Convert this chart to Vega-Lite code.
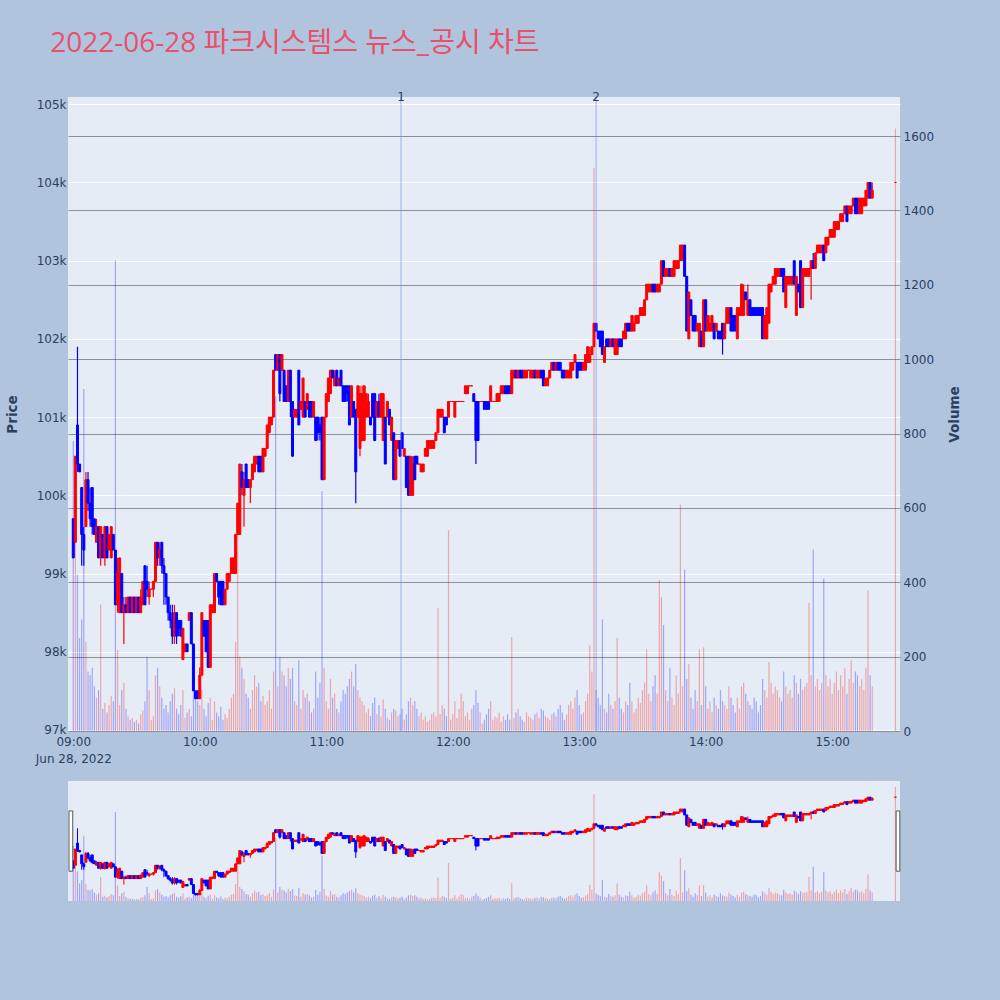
{
"$schema": "https://vega.github.io/schema/vega-lite/v6.json",
"background": "#B0C4DE",
"padding": {"left": 5, "top": 30, "right": 38, "bottom": 114},
"title": {"text": "2022-06-28 파크시스템스 뉴스_공시 차트", "anchor": "start", "frame": "bounds", "dx": 45, "offset": 33, "fontSize": 28, "font": "Open Sans, Noto Sans CJK KR", "fontWeight": "normal", "color": "#E9506A"},
"data": {"format": {"parse": {"t": "date:'%H:%M'"}}, "values": [
{"t":"09:00","o":99700,"h":99700,"l":99200,"c":99200,"v":780},
{"t":"09:01","o":99400,"h":100500,"l":99400,"c":100500,"v":740},
{"t":"09:02","o":100900,"h":101900,"l":100300,"c":100400,"v":420},
{"t":"09:03","o":100400,"h":100400,"l":100300,"c":100300,"v":250},
{"t":"09:04","o":100100,"h":100100,"l":99100,"c":99500,"v":300},
{"t":"09:05","o":99500,"h":99600,"l":99100,"c":99300,"v":920},
{"t":"09:06","o":99600,"h":100300,"l":99600,"c":100200,"v":240},
{"t":"09:07","o":100200,"h":100300,"l":99800,"c":99900,"v":160},
{"t":"09:08","o":99900,"h":100100,"l":99600,"c":99700,"v":150},
{"t":"09:09","o":100100,"h":100100,"l":99500,"c":99600,"v":170},
{"t":"09:10","o":99700,"h":99700,"l":99500,"c":99500,"v":120},
{"t":"09:11","o":99400,"h":99700,"l":99400,"c":99600,"v":90},
{"t":"09:12","o":99600,"h":99600,"l":99200,"c":99200,"v":110},
{"t":"09:13","o":99200,"h":99600,"l":99100,"c":99600,"v":340},
{"t":"09:14","o":99500,"h":99500,"l":99200,"c":99200,"v":60},
{"t":"09:15","o":99200,"h":99600,"l":99100,"c":99600,"v":75},
{"t":"09:16","o":99600,"h":99600,"l":99200,"c":99200,"v":50},
{"t":"09:17","o":99300,"h":99500,"l":99300,"c":99500,"v":70},
{"t":"09:18","o":99200,"h":99600,"l":99200,"c":99600,"v":95},
{"t":"09:19","o":99500,"h":99500,"l":99300,"c":99300,"v":80},
{"t":"09:20","o":99300,"h":99300,"l":98600,"c":98600,"v":1265},
{"t":"09:21","o":98600,"h":99200,"l":98500,"c":99000,"v":218},
{"t":"09:22","o":98500,"h":99200,"l":98500,"c":99200,"v":70},
{"t":"09:23","o":99000,"h":99000,"l":98500,"c":98500,"v":110},
{"t":"09:24","o":98500,"h":98700,"l":98100,"c":98600,"v":130},
{"t":"09:25","o":98600,"h":98700,"l":98500,"c":98500,"v":60},
{"t":"09:26","o":98500,"h":98700,"l":98500,"c":98700,"v":40},
{"t":"09:27","o":98700,"h":98700,"l":98500,"c":98500,"v":30},
{"t":"09:28","o":98500,"h":98700,"l":98500,"c":98700,"v":35},
{"t":"09:29","o":98700,"h":98700,"l":98500,"c":98500,"v":25},
{"t":"09:30","o":98500,"h":98700,"l":98500,"c":98700,"v":30},
{"t":"09:31","o":98700,"h":98700,"l":98500,"c":98500,"v":20},
{"t":"09:32","o":98500,"h":98800,"l":98500,"c":98700,"v":45},
{"t":"09:33","o":98600,"h":98900,"l":98600,"c":98900,"v":55},
{"t":"09:34","o":99100,"h":99100,"l":98600,"c":98600,"v":80},
{"t":"09:35","o":98900,"h":99100,"l":98700,"c":98800,"v":200},
{"t":"09:36","o":98700,"h":98900,"l":98600,"c":98800,"v":110},
{"t":"09:37","o":98800,"h":98800,"l":98800,"c":98800,"v":30},
{"t":"09:38","o":98800,"h":98900,"l":98700,"c":98900,"v":40},
{"t":"09:39","o":98900,"h":99400,"l":98900,"c":99400,"v":150},
{"t":"09:40","o":99400,"h":99400,"l":99100,"c":99200,"v":170},
{"t":"09:41","o":99200,"h":99400,"l":99100,"c":99300,"v":120},
{"t":"09:42","o":99400,"h":99400,"l":99000,"c":99100,"v":90},
{"t":"09:43","o":99100,"h":99200,"l":98600,"c":99000,"v":60},
{"t":"09:44","o":99000,"h":99000,"l":98600,"c":98700,"v":70},
{"t":"09:45","o":98700,"h":98700,"l":98400,"c":98500,"v":50},
{"t":"09:46","o":98500,"h":98600,"l":98300,"c":98400,"v":80},
{"t":"09:47","o":98400,"h":98600,"l":98100,"c":98200,"v":100},
{"t":"09:48","o":98200,"h":98600,"l":98100,"c":98500,"v":115},
{"t":"09:49","o":98500,"h":98500,"l":98100,"c":98200,"v":60},
{"t":"09:50","o":98400,"h":98400,"l":98200,"c":98300,"v":45},
{"t":"09:51","o":98400,"h":98400,"l":98200,"c":98200,"v":70},
{"t":"09:52","o":97900,"h":98300,"l":97900,"c":98300,"v":110},
{"t":"09:53","o":98000,"h":98100,"l":98000,"c":98100,"v":35},
{"t":"09:54","o":98100,"h":98100,"l":98000,"c":98000,"v":50},
{"t":"09:55","o":98400,"h":98500,"l":98400,"c":98500,"v":60},
{"t":"09:56","o":98500,"h":98500,"l":98100,"c":98100,"v":40},
{"t":"09:57","o":98100,"h":98100,"l":97500,"c":97500,"v":105},
{"t":"09:58","o":97500,"h":97500,"l":97400,"c":97400,"v":95},
{"t":"09:59","o":97500,"h":97500,"l":97400,"c":97400,"v":80},
{"t":"10:00","o":97400,"h":97800,"l":97400,"c":97700,"v":70},
{"t":"10:01","o":97700,"h":98500,"l":97700,"c":98500,"v":110},
{"t":"10:02","o":98400,"h":98400,"l":98200,"c":98200,"v":60},
{"t":"10:03","o":98400,"h":98400,"l":98000,"c":98000,"v":40},
{"t":"10:04","o":98400,"h":98400,"l":97800,"c":97800,"v":75},
{"t":"10:05","o":97800,"h":98600,"l":97800,"c":98600,"v":90},
{"t":"10:06","o":98500,"h":98600,"l":98500,"c":98600,"v":30},
{"t":"10:07","o":98500,"h":99000,"l":98500,"c":99000,"v":80},
{"t":"10:08","o":99000,"h":99000,"l":98900,"c":98900,"v":50},
{"t":"10:09","o":98900,"h":98900,"l":98600,"c":98700,"v":40},
{"t":"10:10","o":98900,"h":98900,"l":98600,"c":98600,"v":65},
{"t":"10:11","o":98900,"h":98900,"l":98600,"c":98600,"v":30},
{"t":"10:12","o":98600,"h":98800,"l":98600,"c":98800,"v":45},
{"t":"10:13","o":98800,"h":99000,"l":98800,"c":99000,"v":35},
{"t":"10:14","o":98900,"h":99000,"l":98900,"c":99000,"v":60},
{"t":"10:15","o":99000,"h":99200,"l":99000,"c":99200,"v":90},
{"t":"10:16","o":99000,"h":99200,"l":99000,"c":99200,"v":100},
{"t":"10:17","o":99000,"h":99500,"l":99000,"c":99500,"v":240},
{"t":"10:18","o":99500,"h":99900,"l":99500,"c":99900,"v":540},
{"t":"10:19","o":99500,"h":100400,"l":99500,"c":100400,"v":200},
{"t":"10:20","o":100300,"h":100400,"l":100000,"c":100100,"v":170},
{"t":"10:21","o":100000,"h":100300,"l":99600,"c":100200,"v":140},
{"t":"10:22","o":100400,"h":100400,"l":100100,"c":100100,"v":100},
{"t":"10:23","o":100200,"h":100200,"l":100100,"c":100100,"v":90},
{"t":"10:24","o":100100,"h":100200,"l":99900,"c":100200,"v":60},
{"t":"10:25","o":100200,"h":100400,"l":100200,"c":100400,"v":110},
{"t":"10:26","o":100300,"h":100500,"l":100300,"c":100500,"v":150},
{"t":"10:27","o":100400,"h":100500,"l":100400,"c":100500,"v":120},
{"t":"10:28","o":100500,"h":100500,"l":100300,"c":100300,"v":130},
{"t":"10:29","o":100500,"h":100500,"l":100300,"c":100300,"v":80},
{"t":"10:30","o":100300,"h":100600,"l":100300,"c":100600,"v":95},
{"t":"10:31","o":100500,"h":100600,"l":100500,"c":100600,"v":70},
{"t":"10:32","o":100600,"h":100900,"l":100600,"c":100900,"v":80},
{"t":"10:33","o":100800,"h":101000,"l":100800,"c":101000,"v":110},
{"t":"10:34","o":100900,"h":101000,"l":100900,"c":101000,"v":60},
{"t":"10:35","o":101000,"h":101600,"l":101000,"c":101600,"v":160},
{"t":"10:36","o":101800,"h":101800,"l":101600,"c":101600,"v":900},
{"t":"10:37","o":101600,"h":101800,"l":101600,"c":101800,"v":120},
{"t":"10:38","o":101800,"h":101800,"l":101200,"c":101300,"v":200},
{"t":"10:39","o":101600,"h":101800,"l":101600,"c":101800,"v":160},
{"t":"10:40","o":101600,"h":101600,"l":101200,"c":101200,"v":150},
{"t":"10:41","o":101400,"h":101400,"l":101200,"c":101200,"v":120},
{"t":"10:42","o":101200,"h":101600,"l":101200,"c":101600,"v":170},
{"t":"10:43","o":101600,"h":101600,"l":101000,"c":101200,"v":140},
{"t":"10:44","o":101200,"h":101200,"l":100500,"c":100500,"v":170},
{"t":"10:45","o":101000,"h":101100,"l":101000,"c":101100,"v":80},
{"t":"10:46","o":101000,"h":101100,"l":101000,"c":101100,"v":70},
{"t":"10:47","o":101600,"h":101600,"l":100900,"c":100900,"v":190},
{"t":"10:48","o":101100,"h":101200,"l":101100,"c":101200,"v":60},
{"t":"10:49","o":101000,"h":101500,"l":101000,"c":101500,"v":110},
{"t":"10:50","o":101200,"h":101200,"l":101000,"c":101000,"v":90},
{"t":"10:51","o":101100,"h":101300,"l":101100,"c":101300,"v":100},
{"t":"10:52","o":101200,"h":101200,"l":101000,"c":101000,"v":80},
{"t":"10:53","o":101200,"h":101200,"l":101000,"c":101000,"v":50},
{"t":"10:54","o":101000,"h":101200,"l":101000,"c":101200,"v":60},
{"t":"10:55","o":101000,"h":101000,"l":100700,"c":100700,"v":160},
{"t":"10:56","o":101000,"h":101000,"l":100700,"c":100800,"v":90},
{"t":"10:57","o":100900,"h":101000,"l":100700,"c":100800,"v":130},
{"t":"10:58","o":101000,"h":101000,"l":100200,"c":100200,"v":645},
{"t":"10:59","o":100200,"h":101000,"l":100200,"c":101000,"v":170},
{"t":"11:00","o":101000,"h":101300,"l":101000,"c":101300,"v":80},
{"t":"11:01","o":101200,"h":101500,"l":101200,"c":101500,"v":60},
{"t":"11:02","o":101300,"h":101600,"l":101300,"c":101600,"v":140},
{"t":"11:03","o":101600,"h":101600,"l":101500,"c":101500,"v":90},
{"t":"11:04","o":101400,"h":101600,"l":101400,"c":101500,"v":100},
{"t":"11:05","o":101600,"h":101600,"l":101400,"c":101400,"v":60},
{"t":"11:06","o":101400,"h":101500,"l":101400,"c":101500,"v":50},
{"t":"11:07","o":101600,"h":101600,"l":101400,"c":101400,"v":80},
{"t":"11:08","o":101400,"h":101400,"l":101200,"c":101200,"v":110},
{"t":"11:09","o":101400,"h":101400,"l":101200,"c":101200,"v":100},
{"t":"11:10","o":101400,"h":101400,"l":101200,"c":101300,"v":120},
{"t":"11:11","o":101400,"h":101400,"l":100900,"c":100900,"v":140},
{"t":"11:12","o":101000,"h":101400,"l":101000,"c":101400,"v":160},
{"t":"11:13","o":101200,"h":101200,"l":101000,"c":101000,"v":120},
{"t":"11:14","o":101100,"h":101100,"l":99900,"c":100300,"v":180},
{"t":"11:15","o":101000,"h":101400,"l":101000,"c":101400,"v":110},
{"t":"11:16","o":100600,"h":101400,"l":100500,"c":101300,"v":90},
{"t":"11:17","o":100700,"h":101400,"l":100700,"c":101300,"v":80},
{"t":"11:18","o":100700,"h":101400,"l":100700,"c":101400,"v":70},
{"t":"11:19","o":101000,"h":101300,"l":101000,"c":101300,"v":50},
{"t":"11:20","o":101000,"h":101300,"l":101000,"c":101200,"v":60},
{"t":"11:21","o":101000,"h":101000,"l":100900,"c":100900,"v":40},
{"t":"11:22","o":101300,"h":101300,"l":101000,"c":101000,"v":75},
{"t":"11:23","o":101300,"h":101300,"l":100700,"c":100700,"v":90},
{"t":"11:24","o":101000,"h":101200,"l":101000,"c":101200,"v":45},
{"t":"11:25","o":101200,"h":101300,"l":101000,"c":101000,"v":70},
{"t":"11:26","o":101000,"h":101300,"l":101000,"c":101300,"v":40},
{"t":"11:27","o":100700,"h":101300,"l":100700,"c":101300,"v":85},
{"t":"11:28","o":101000,"h":101000,"l":100400,"c":100400,"v":60},
{"t":"11:29","o":101000,"h":101200,"l":101000,"c":101200,"v":35},
{"t":"11:30","o":101100,"h":101100,"l":100900,"c":100900,"v":30},
{"t":"11:31","o":100700,"h":101000,"l":100700,"c":101000,"v":50},
{"t":"11:32","o":100800,"h":100800,"l":100200,"c":100200,"v":60},
{"t":"11:33","o":100200,"h":100700,"l":100200,"c":100700,"v":55},
{"t":"11:34","o":100600,"h":100700,"l":100600,"c":100700,"v":40},
{"t":"11:35","o":100700,"h":100700,"l":100500,"c":100500,"v":45},
{"t":"11:36","o":100800,"h":100800,"l":100600,"c":100600,"v":60},
{"t":"11:37","o":100500,"h":100600,"l":100500,"c":100600,"v":30},
{"t":"11:38","o":100500,"h":100500,"l":100100,"c":100100,"v":45},
{"t":"11:39","o":100500,"h":100500,"l":100000,"c":100000,"v":80},
{"t":"11:40","o":100000,"h":100500,"l":100000,"c":100500,"v":90},
{"t":"11:41","o":100000,"h":100500,"l":100000,"c":100400,"v":70},
{"t":"11:42","o":100500,"h":100500,"l":100200,"c":100200,"v":80},
{"t":"11:43","o":100500,"h":100500,"l":100400,"c":100400,"v":60},
{"t":"11:44","o":100400,"h":100400,"l":100400,"c":100400,"v":40},
{"t":"11:45","o":100300,"h":100400,"l":100300,"c":100400,"v":50},
{"t":"11:46","o":100300,"h":100400,"l":100300,"c":100400,"v":30},
{"t":"11:47","o":100500,"h":100600,"l":100500,"c":100600,"v":40},
{"t":"11:48","o":100500,"h":100700,"l":100500,"c":100700,"v":25},
{"t":"11:49","o":100600,"h":100700,"l":100600,"c":100700,"v":30},
{"t":"11:50","o":100600,"h":100700,"l":100600,"c":100700,"v":45},
{"t":"11:51","o":100600,"h":100700,"l":100600,"c":100700,"v":50},
{"t":"11:52","o":100700,"h":100800,"l":100700,"c":100800,"v":40},
{"t":"11:53","o":100800,"h":101100,"l":100800,"c":101100,"v":330},
{"t":"11:54","o":101000,"h":101100,"l":101000,"c":101100,"v":45},
{"t":"11:55","o":101000,"h":101100,"l":101000,"c":101100,"v":70},
{"t":"11:56","o":101000,"h":101000,"l":100800,"c":100800,"v":60},
{"t":"11:57","o":101000,"h":101000,"l":100900,"c":100900,"v":40},
{"t":"11:58","o":101000,"h":101200,"l":101000,"c":101200,"v":540},
{"t":"11:59","o":101200,"h":101200,"l":101200,"c":101200,"v":30},
{"t":"12:00","o":101200,"h":101200,"l":101200,"c":101200,"v":45},
{"t":"12:01","o":101000,"h":101200,"l":101000,"c":101200,"v":80},
{"t":"12:02","o":101200,"h":101200,"l":101200,"c":101200,"v":35},
{"t":"12:03","o":101200,"h":101200,"l":101200,"c":101200,"v":60},
{"t":"12:04","o":101200,"h":101200,"l":101200,"c":101200,"v":100},
{"t":"12:05","o":101200,"h":101200,"l":101200,"c":101200,"v":80},
{"t":"12:06","o":101300,"h":101400,"l":101300,"c":101400,"v":40},
{"t":"12:07","o":101300,"h":101400,"l":101300,"c":101400,"v":50},
{"t":"12:08","o":101400,"h":101400,"l":101400,"c":101400,"v":30},
{"t":"12:09","o":101400,"h":101400,"l":101400,"c":101400,"v":60},
{"t":"12:10","o":101300,"h":101300,"l":101200,"c":101200,"v":70},
{"t":"12:11","o":101200,"h":101200,"l":100400,"c":100700,"v":110},
{"t":"12:12","o":101200,"h":101200,"l":100700,"c":100700,"v":75},
{"t":"12:13","o":101200,"h":101200,"l":101200,"c":101200,"v":50},
{"t":"12:14","o":101200,"h":101200,"l":101200,"c":101200,"v":20},
{"t":"12:15","o":101200,"h":101200,"l":101100,"c":101100,"v":30},
{"t":"12:16","o":101200,"h":101200,"l":101100,"c":101100,"v":45},
{"t":"12:17","o":101200,"h":101200,"l":101100,"c":101100,"v":60},
{"t":"12:18","o":101200,"h":101400,"l":101200,"c":101400,"v":80},
{"t":"12:19","o":101200,"h":101200,"l":101200,"c":101200,"v":30},
{"t":"12:20","o":101200,"h":101200,"l":101200,"c":101200,"v":40},
{"t":"12:21","o":101200,"h":101300,"l":101200,"c":101300,"v":35},
{"t":"12:22","o":101200,"h":101300,"l":101200,"c":101300,"v":50},
{"t":"12:23","o":101300,"h":101400,"l":101300,"c":101400,"v":25},
{"t":"12:24","o":101300,"h":101400,"l":101300,"c":101400,"v":40},
{"t":"12:25","o":101400,"h":101400,"l":101300,"c":101300,"v":30},
{"t":"12:26","o":101400,"h":101400,"l":101300,"c":101300,"v":45},
{"t":"12:27","o":101400,"h":101400,"l":101300,"c":101300,"v":30},
{"t":"12:28","o":101300,"h":101600,"l":101300,"c":101600,"v":253},
{"t":"12:29","o":101500,"h":101600,"l":101500,"c":101600,"v":35},
{"t":"12:30","o":101600,"h":101600,"l":101500,"c":101500,"v":50},
{"t":"12:31","o":101500,"h":101600,"l":101500,"c":101600,"v":60},
{"t":"12:32","o":101600,"h":101600,"l":101500,"c":101500,"v":40},
{"t":"12:33","o":101600,"h":101600,"l":101500,"c":101500,"v":30},
{"t":"12:34","o":101500,"h":101600,"l":101500,"c":101600,"v":25},
{"t":"12:35","o":101500,"h":101600,"l":101500,"c":101600,"v":50},
{"t":"12:36","o":101600,"h":101600,"l":101600,"c":101600,"v":40},
{"t":"12:37","o":101500,"h":101600,"l":101500,"c":101600,"v":35},
{"t":"12:38","o":101500,"h":101600,"l":101500,"c":101600,"v":30},
{"t":"12:39","o":101600,"h":101600,"l":101500,"c":101500,"v":45},
{"t":"12:40","o":101500,"h":101600,"l":101500,"c":101600,"v":50},
{"t":"12:41","o":101500,"h":101600,"l":101500,"c":101600,"v":35},
{"t":"12:42","o":101600,"h":101600,"l":101500,"c":101500,"v":60},
{"t":"12:43","o":101600,"h":101600,"l":101400,"c":101400,"v":55},
{"t":"12:44","o":101400,"h":101500,"l":101400,"c":101500,"v":40},
{"t":"12:45","o":101400,"h":101500,"l":101400,"c":101500,"v":35},
{"t":"12:46","o":101500,"h":101600,"l":101500,"c":101600,"v":30},
{"t":"12:47","o":101600,"h":101700,"l":101600,"c":101700,"v":45},
{"t":"12:48","o":101700,"h":101700,"l":101600,"c":101600,"v":50},
{"t":"12:49","o":101600,"h":101700,"l":101600,"c":101700,"v":40},
{"t":"12:50","o":101700,"h":101700,"l":101600,"c":101600,"v":60},
{"t":"12:51","o":101700,"h":101700,"l":101600,"c":101600,"v":70},
{"t":"12:52","o":101600,"h":101600,"l":101500,"c":101500,"v":50},
{"t":"12:53","o":101600,"h":101600,"l":101500,"c":101500,"v":30},
{"t":"12:54","o":101500,"h":101600,"l":101500,"c":101600,"v":45},
{"t":"12:55","o":101500,"h":101600,"l":101500,"c":101600,"v":70},
{"t":"12:56","o":101500,"h":101700,"l":101500,"c":101700,"v":80},
{"t":"12:57","o":101600,"h":101700,"l":101600,"c":101700,"v":60},
{"t":"12:58","o":101700,"h":101800,"l":101700,"c":101800,"v":90},
{"t":"12:59","o":101700,"h":101700,"l":101500,"c":101500,"v":110},
{"t":"13:00","o":101700,"h":101700,"l":101600,"c":101600,"v":70},
{"t":"13:01","o":101700,"h":101700,"l":101600,"c":101600,"v":45},
{"t":"13:02","o":101600,"h":101700,"l":101600,"c":101700,"v":50},
{"t":"13:03","o":101600,"h":101800,"l":101600,"c":101800,"v":80},
{"t":"13:04","o":101700,"h":101900,"l":101700,"c":101900,"v":100},
{"t":"13:05","o":101700,"h":101900,"l":101700,"c":101800,"v":230},
{"t":"13:06","o":101800,"h":101900,"l":101800,"c":101900,"v":160},
{"t":"13:07","o":101900,"h":102200,"l":101900,"c":102200,"v":1515},
{"t":"13:08","o":102200,"h":102200,"l":102100,"c":102100,"v":110},
{"t":"13:09","o":102100,"h":102100,"l":102000,"c":102000,"v":90},
{"t":"13:10","o":102100,"h":102100,"l":101900,"c":101900,"v":70},
{"t":"13:11","o":102100,"h":102100,"l":101800,"c":101800,"v":300},
{"t":"13:12","o":101700,"h":101900,"l":101700,"c":101900,"v":60},
{"t":"13:13","o":102000,"h":102000,"l":101900,"c":101900,"v":50},
{"t":"13:14","o":102000,"h":102000,"l":101900,"c":101900,"v":100},
{"t":"13:15","o":101900,"h":102000,"l":101900,"c":102000,"v":70},
{"t":"13:16","o":102000,"h":102000,"l":101900,"c":101900,"v":60},
{"t":"13:17","o":101800,"h":102000,"l":101800,"c":102000,"v":80},
{"t":"13:18","o":101800,"h":102000,"l":101800,"c":102000,"v":250},
{"t":"13:19","o":102000,"h":102000,"l":101900,"c":101900,"v":90},
{"t":"13:20","o":102000,"h":102000,"l":101900,"c":101900,"v":60},
{"t":"13:21","o":102000,"h":102100,"l":102000,"c":102100,"v":50},
{"t":"13:22","o":102000,"h":102200,"l":102000,"c":102200,"v":80},
{"t":"13:23","o":102200,"h":102200,"l":102100,"c":102100,"v":70},
{"t":"13:24","o":102200,"h":102200,"l":102100,"c":102100,"v":130},
{"t":"13:25","o":102100,"h":102300,"l":102100,"c":102300,"v":80},
{"t":"13:26","o":102100,"h":102300,"l":102100,"c":102200,"v":50},
{"t":"13:27","o":102200,"h":102300,"l":102200,"c":102300,"v":60},
{"t":"13:28","o":102200,"h":102300,"l":102200,"c":102300,"v":90},
{"t":"13:29","o":102300,"h":102400,"l":102300,"c":102400,"v":75},
{"t":"13:30","o":102300,"h":102400,"l":102300,"c":102400,"v":110},
{"t":"13:31","o":102300,"h":102500,"l":102300,"c":102500,"v":130},
{"t":"13:32","o":102500,"h":102700,"l":102500,"c":102700,"v":220},
{"t":"13:33","o":102600,"h":102700,"l":102600,"c":102700,"v":100},
{"t":"13:34","o":102600,"h":102700,"l":102600,"c":102700,"v":80},
{"t":"13:35","o":102700,"h":102700,"l":102600,"c":102600,"v":120},
{"t":"13:36","o":102700,"h":102700,"l":102600,"c":102600,"v":150},
{"t":"13:37","o":102600,"h":102700,"l":102600,"c":102700,"v":100},
{"t":"13:38","o":102600,"h":102700,"l":102600,"c":102700,"v":407},
{"t":"13:39","o":102700,"h":103000,"l":102700,"c":103000,"v":360},
{"t":"13:40","o":103000,"h":103000,"l":102800,"c":102800,"v":285},
{"t":"13:41","o":102800,"h":102900,"l":102800,"c":102900,"v":110},
{"t":"13:42","o":102800,"h":102900,"l":102800,"c":102900,"v":80},
{"t":"13:43","o":102900,"h":102900,"l":102800,"c":102800,"v":170},
{"t":"13:44","o":102800,"h":102900,"l":102800,"c":102900,"v":90},
{"t":"13:45","o":102800,"h":103000,"l":102800,"c":103000,"v":70},
{"t":"13:46","o":102900,"h":103000,"l":102900,"c":103000,"v":150},
{"t":"13:47","o":102900,"h":103000,"l":102900,"c":103000,"v":100},
{"t":"13:48","o":103000,"h":103200,"l":103000,"c":103200,"v":609},
{"t":"13:49","o":103000,"h":103200,"l":103000,"c":103200,"v":120},
{"t":"13:50","o":103200,"h":103200,"l":102800,"c":102800,"v":434},
{"t":"13:51","o":102800,"h":102800,"l":102100,"c":102100,"v":140},
{"t":"13:52","o":102000,"h":102600,"l":102000,"c":102600,"v":180},
{"t":"13:53","o":102500,"h":102500,"l":102300,"c":102300,"v":90},
{"t":"13:54","o":102300,"h":102300,"l":102100,"c":102100,"v":60},
{"t":"13:55","o":102300,"h":102300,"l":102100,"c":102100,"v":110},
{"t":"13:56","o":102100,"h":102200,"l":102100,"c":102200,"v":80},
{"t":"13:57","o":101900,"h":102200,"l":101900,"c":102200,"v":220},
{"t":"13:58","o":102100,"h":102100,"l":101900,"c":101900,"v":70},
{"t":"13:59","o":101900,"h":102500,"l":101900,"c":102500,"v":225},
{"t":"14:00","o":102500,"h":102500,"l":102100,"c":102100,"v":120},
{"t":"14:01","o":102100,"h":102300,"l":102100,"c":102300,"v":60},
{"t":"14:02","o":102100,"h":102300,"l":102100,"c":102200,"v":80},
{"t":"14:03","o":102100,"h":102300,"l":102100,"c":102300,"v":50},
{"t":"14:04","o":102200,"h":102200,"l":102000,"c":102000,"v":90},
{"t":"14:05","o":102100,"h":102200,"l":102100,"c":102200,"v":70},
{"t":"14:06","o":102100,"h":102100,"l":102000,"c":102000,"v":60},
{"t":"14:07","o":102100,"h":102100,"l":102000,"c":102000,"v":110},
{"t":"14:08","o":102200,"h":102200,"l":101800,"c":102000,"v":80},
{"t":"14:09","o":102000,"h":102200,"l":102000,"c":102200,"v":70},
{"t":"14:10","o":102200,"h":102400,"l":102200,"c":102400,"v":60},
{"t":"14:11","o":102200,"h":102400,"l":102200,"c":102400,"v":120},
{"t":"14:12","o":102400,"h":102400,"l":102100,"c":102100,"v":90},
{"t":"14:13","o":102300,"h":102300,"l":102100,"c":102100,"v":70},
{"t":"14:14","o":102300,"h":102300,"l":102100,"c":102100,"v":50},
{"t":"14:15","o":102000,"h":102400,"l":102000,"c":102400,"v":90},
{"t":"14:16","o":102300,"h":102400,"l":102300,"c":102400,"v":60},
{"t":"14:17","o":102300,"h":102700,"l":102300,"c":102700,"v":120},
{"t":"14:18","o":102300,"h":102700,"l":102300,"c":102600,"v":130},
{"t":"14:19","o":102600,"h":102600,"l":102500,"c":102500,"v":100},
{"t":"14:20","o":102300,"h":102700,"l":102300,"c":102500,"v":80},
{"t":"14:21","o":102500,"h":102500,"l":102300,"c":102300,"v":70},
{"t":"14:22","o":102400,"h":102400,"l":102300,"c":102300,"v":60},
{"t":"14:23","o":102400,"h":102400,"l":102300,"c":102300,"v":90},
{"t":"14:24","o":102400,"h":102400,"l":102300,"c":102300,"v":80},
{"t":"14:25","o":102400,"h":102400,"l":102300,"c":102300,"v":50},
{"t":"14:26","o":102400,"h":102400,"l":102300,"c":102300,"v":70},
{"t":"14:27","o":102400,"h":102400,"l":102000,"c":102000,"v":140},
{"t":"14:28","o":102000,"h":102300,"l":102000,"c":102300,"v":110},
{"t":"14:29","o":102000,"h":102400,"l":102000,"c":102400,"v":90},
{"t":"14:30","o":102200,"h":102700,"l":102200,"c":102700,"v":185},
{"t":"14:31","o":102600,"h":102700,"l":102600,"c":102700,"v":130},
{"t":"14:32","o":102700,"h":102800,"l":102700,"c":102800,"v":100},
{"t":"14:33","o":102700,"h":102900,"l":102700,"c":102900,"v":120},
{"t":"14:34","o":102800,"h":102900,"l":102800,"c":102900,"v":110},
{"t":"14:35","o":102800,"h":102900,"l":102800,"c":102900,"v":90},
{"t":"14:36","o":102900,"h":102900,"l":102800,"c":102800,"v":80},
{"t":"14:37","o":102900,"h":102900,"l":102600,"c":102600,"v":160},
{"t":"14:38","o":102400,"h":102800,"l":102400,"c":102800,"v":120},
{"t":"14:39","o":102700,"h":102800,"l":102700,"c":102800,"v":100},
{"t":"14:40","o":102700,"h":102800,"l":102700,"c":102800,"v":110},
{"t":"14:41","o":102700,"h":102800,"l":102700,"c":102800,"v":90},
{"t":"14:42","o":103000,"h":103000,"l":102700,"c":102700,"v":150},
{"t":"14:43","o":102300,"h":102800,"l":102300,"c":102800,"v":130},
{"t":"14:44","o":102700,"h":102700,"l":102600,"c":102600,"v":100},
{"t":"14:45","o":103000,"h":103000,"l":102400,"c":102400,"v":140},
{"t":"14:46","o":102400,"h":102900,"l":102400,"c":102900,"v":110},
{"t":"14:47","o":102800,"h":102900,"l":102800,"c":102900,"v":120},
{"t":"14:48","o":102800,"h":102900,"l":102800,"c":102900,"v":130},
{"t":"14:49","o":102800,"h":102900,"l":102800,"c":102900,"v":345},
{"t":"14:50","o":102900,"h":103000,"l":102500,"c":103000,"v":150},
{"t":"14:51","o":103000,"h":103100,"l":102900,"c":102900,"v":488},
{"t":"14:52","o":102900,"h":103100,"l":102900,"c":103100,"v":120},
{"t":"14:53","o":103100,"h":103200,"l":103100,"c":103200,"v":140},
{"t":"14:54","o":103100,"h":103200,"l":103100,"c":103200,"v":110},
{"t":"14:55","o":103100,"h":103200,"l":103100,"c":103200,"v":130},
{"t":"14:56","o":103200,"h":103200,"l":103000,"c":103000,"v":410},
{"t":"14:57","o":103100,"h":103300,"l":103100,"c":103300,"v":150},
{"t":"14:58","o":103200,"h":103300,"l":103200,"c":103300,"v":120},
{"t":"14:59","o":103300,"h":103400,"l":103300,"c":103400,"v":140},
{"t":"15:00","o":103300,"h":103400,"l":103300,"c":103400,"v":100},
{"t":"15:01","o":103300,"h":103500,"l":103300,"c":103500,"v":130},
{"t":"15:02","o":103400,"h":103500,"l":103400,"c":103500,"v":160},
{"t":"15:03","o":103400,"h":103500,"l":103400,"c":103500,"v":110},
{"t":"15:04","o":103500,"h":103600,"l":103500,"c":103600,"v":150},
{"t":"15:05","o":103500,"h":103600,"l":103500,"c":103600,"v":120},
{"t":"15:06","o":103600,"h":103700,"l":103600,"c":103700,"v":170},
{"t":"15:07","o":103700,"h":103700,"l":103500,"c":103500,"v":100},
{"t":"15:08","o":103600,"h":103700,"l":103600,"c":103700,"v":140},
{"t":"15:09","o":103600,"h":103700,"l":103600,"c":103700,"v":190},
{"t":"15:10","o":103700,"h":103800,"l":103700,"c":103800,"v":130},
{"t":"15:11","o":103800,"h":103800,"l":103600,"c":103600,"v":160},
{"t":"15:12","o":103800,"h":103800,"l":103600,"c":103600,"v":150},
{"t":"15:13","o":103600,"h":103800,"l":103600,"c":103800,"v":120},
{"t":"15:14","o":103600,"h":103800,"l":103600,"c":103800,"v":140},
{"t":"15:15","o":103700,"h":103800,"l":103700,"c":103800,"v":110},
{"t":"15:16","o":103700,"h":103900,"l":103700,"c":103900,"v":170},
{"t":"15:17","o":103800,"h":104000,"l":103800,"c":104000,"v":378},
{"t":"15:18","o":104000,"h":104000,"l":103800,"c":103800,"v":150},
{"t":"15:19","o":103800,"h":104000,"l":103800,"c":103900,"v":120},
{"t":"15:30","o":104000,"h":104000,"l":104000,"c":104000,"v":1620}
]},
"bounds": "flush",
"spacing": 50,
"config": {
  "font": "DejaVu Sans",
  "view": {"stroke": null, "fill": "#E5ECF6"},
  "axis": {"labelFont": "DejaVu Sans", "labelFontSize": 12, "labelColor": "#2a3f5f", "titleFont": "DejaVu Sans", "titleColor": "#2a3f5f", "titleFontSize": 13.5, "titleFontWeight": "bold", "domain": false, "ticks": false, "tickSize": 0}
},
"vconcat": [
 {
  "width": 832, "height": 634,
  "layer": [
   {
    "mark": {"type": "bar", "width": 1.2, "opacity": 0.3},
    "encoding": {
      "x": {"field": "t", "type": "temporal",
            "scale": {"nice": false, "padding": 0, "domain": [{"year":1900,"month":1,"date":1,"hours":8,"minutes":57,"seconds":30},{"year":1900,"month":1,"date":1,"hours":15,"minutes":32,"seconds":10}]},
            "axis": {"title": null, "grid": false, "labelPadding": 5.5, "labelFlush": false, "labelOverlap": false, "labelLineHeight": 16.5,
                     "values": [{"year":1900,"month":1,"date":1,"hours":9},{"year":1900,"month":1,"date":1,"hours":10},{"year":1900,"month":1,"date":1,"hours":11},{"year":1900,"month":1,"date":1,"hours":12},{"year":1900,"month":1,"date":1,"hours":13},{"year":1900,"month":1,"date":1,"hours":14},{"year":1900,"month":1,"date":1,"hours":15}],
                     "labelExpr": "hours(datum.value) == 9 ? ['09:00', 'Jun 28, 2022'] : timeFormat(datum.value, '%H:%M')"}},
      "y": {"field": "v", "type": "quantitative", "scale": {"domain": [0, 1705], "nice": false},
            "axis": {"orient": "right", "title": "Volume", "values": [0,200,400,600,800,1000,1200,1400,1600], "format": "d", "grid": true, "gridColor": "#8a8f99", "labelPadding": 3, "titlePadding": 28, "titleAngle": 270}},
      "color": {"condition": {"test": "datum.c >= datum.o", "value": "#FF0000"}, "value": "#0000FF"}
    }
   },
   {
    "layer": [
     {
      "mark": {"type": "rule", "strokeWidth": 1.2},
      "encoding": {
        "x": {"field": "t", "type": "temporal"},
        "y": {"field": "l", "type": "quantitative", "scale": {"domain": [96987, 105093], "nice": false, "zero": false},
              "axis": {"orient": "left", "title": "Price", "values": [97000,98000,99000,100000,101000,102000,103000,104000,105000], "format": "~s", "grid": true, "gridColor": "#FFFFFF", "labelPadding": 2, "titlePadding": 17}},
        "y2": {"field": "h"},
        "color": {"condition": {"test": "datum.c >= datum.o", "value": "#FF0000"}, "value": "#0000FF"}
      }
     },
     {
      "mark": {"type": "bar", "width": 2, "strokeWidth": 1},
      "encoding": {
        "x": {"field": "t", "type": "temporal"},
        "y": {"field": "o", "type": "quantitative", "axis": {"title": "Price"}},
        "y2": {"field": "c"},
        "fill": {"condition": {"test": "datum.c >= datum.o", "value": "#FF0000"}, "value": "#0000FF"},
        "stroke": {"condition": {"test": "datum.c >= datum.o", "value": "#FF0000"}, "value": "#0000FF"}
      }
     },
     {
      "data": {"values": [{"n": "1", "nt": "1900-01-01T11:35:27"}, {"n": "2", "nt": "1900-01-01T13:08:00"}]},
      "mark": {"type": "rule", "color": "#6478FA", "opacity": 0.55, "strokeWidth": 1},
      "encoding": {"x": {"field": "nt", "type": "temporal"}}
     },
     {
      "data": {"values": [{"n": "1", "nt": "1900-01-01T11:35:27"}, {"n": "2", "nt": "1900-01-01T13:08:00"}]},
      "mark": {"type": "text", "baseline": "bottom", "dy": 7, "fontSize": 12, "color": "#2a3f5f", "font": "DejaVu Sans"},
      "encoding": {"x": {"field": "nt", "type": "temporal"}, "y": {"datum": 105093, "type": "quantitative", "axis": {"title": "Price"}}, "text": {"field": "n"}}
     }
    ]
   }
  ],
  "resolve": {"scale": {"y": "independent"}, "axis": {"y": "independent"}}
 },
 {
  "width": 832, "height": 120,
  "layer": [
   {
    "mark": {"type": "bar", "width": 1.2, "opacity": 0.3},
    "encoding": {
      "x": {"field": "t", "type": "temporal", "axis": null, "scale": {"nice": false, "padding": 0, "domain": [{"year":1900,"month":1,"date":1,"hours":8,"minutes":57,"seconds":30},{"year":1900,"month":1,"date":1,"hours":15,"minutes":32,"seconds":10}]}},
      "y": {"field": "v", "type": "quantitative", "scale": {"domain": [0, 1705], "nice": false}, "axis": null},
      "color": {"condition": {"test": "datum.c >= datum.o", "value": "#FF0000"}, "value": "#0000FF"}
    }
   },
   {
    "layer": [
     {
      "mark": {"type": "rule", "strokeWidth": 1},
      "encoding": {
        "x": {"field": "t", "type": "temporal"},
        "y": {"field": "l", "type": "quantitative", "scale": {"domain": [96987, 105093], "nice": false, "zero": false}, "axis": null},
        "y2": {"field": "h"},
        "color": {"condition": {"test": "datum.c >= datum.o", "value": "#FF0000"}, "value": "#0000FF"}
      }
     },
     {
      "mark": {"type": "bar", "width": 2, "strokeWidth": 1},
      "encoding": {
        "x": {"field": "t", "type": "temporal"},
        "y": {"field": "o", "type": "quantitative", "axis": null},
        "y2": {"field": "c"},
        "fill": {"condition": {"test": "datum.c >= datum.o", "value": "#FF0000"}, "value": "#0000FF"},
        "stroke": {"condition": {"test": "datum.c >= datum.o", "value": "#FF0000"}, "value": "#0000FF"}
      }
     },
     {
      "data": {"values": [{}]},
      "mark": {"type": "rect", "fill": "#FFFFFF", "stroke": "#555555", "strokeWidth": 1},
      "encoding": {
        "x": {"datum": {"year":1900,"month":1,"date":1,"hours":8,"minutes":57,"seconds":58}, "type": "temporal"},
        "x2": {"datum": {"year":1900,"month":1,"date":1,"hours":8,"minutes":59,"seconds":45}},
        "y": {"datum": 99000, "type": "quantitative"},
        "y2": {"datum": 103070}
      }
     },
     {
      "data": {"values": [{}]},
      "mark": {"type": "rect", "fill": "#FFFFFF", "stroke": "#555555", "strokeWidth": 1},
      "encoding": {
        "x": {"datum": {"year":1900,"month":1,"date":1,"hours":15,"minutes":30,"seconds":20}, "type": "temporal"},
        "x2": {"datum": {"year":1900,"month":1,"date":1,"hours":15,"minutes":32,"seconds":5}},
        "y": {"datum": 99000, "type": "quantitative"},
        "y2": {"datum": 103070}
      }
     }
    ]
   }
  ],
  "resolve": {"scale": {"y": "independent"}}
 }
]
}
